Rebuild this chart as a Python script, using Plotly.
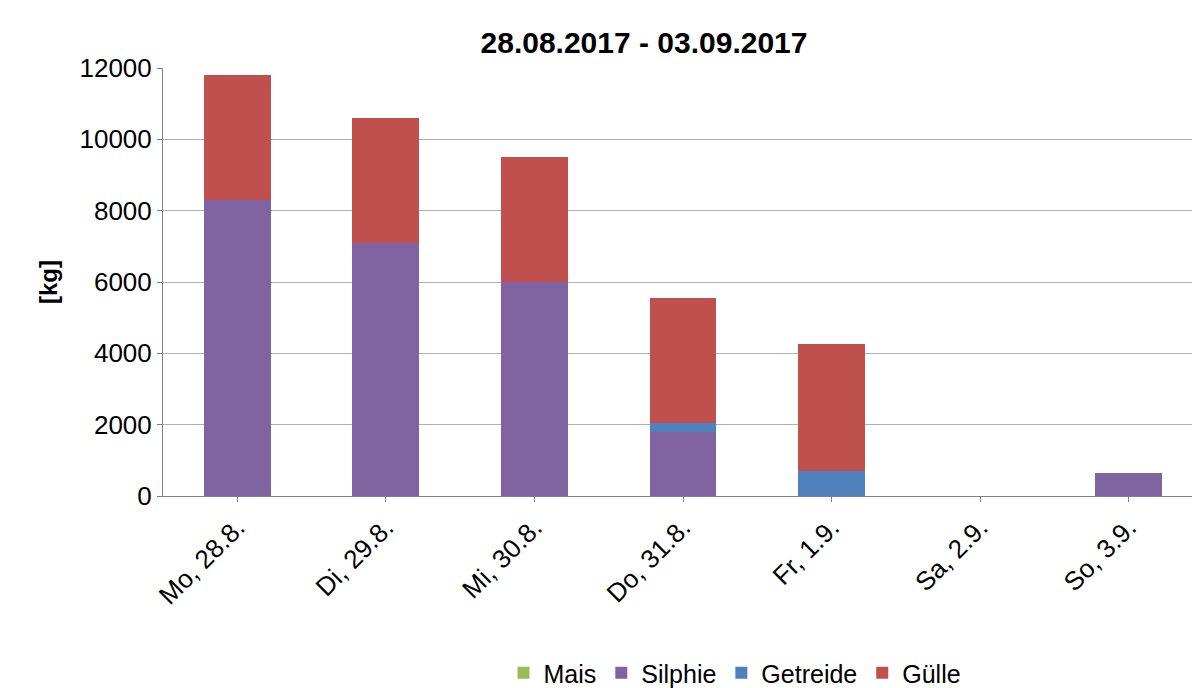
import plotly.graph_objects as go

days = ["Mo, 28.8.", "Di, 29.8.", "Mi, 30.8.", "Do, 31.8.", "Fr, 1.9.", "Sa, 2.9.", "So, 3.9."]
mais = [0, 0, 0, 0, 0, 0, 0]
silphie = [8300, 7100, 6000, 1800, 0, 0, 650]
getreide = [0, 0, 0, 250, 700, 0, 0]
guelle = [3500, 3500, 3500, 3500, 3550, 0, 0]

fig = go.Figure()
fig.add_trace(go.Bar(x=days, y=mais, name="Mais", marker_color="#9bbb59"))
fig.add_trace(go.Bar(x=days, y=silphie, name="Silphie", marker_color="#8064a2"))
fig.add_trace(go.Bar(x=days, y=getreide, name="Getreide", marker_color="#4f81bd"))
fig.add_trace(go.Bar(x=days, y=guelle, name="Gülle", marker_color="#c0504d"))
fig.update_traces(marker_line_width=0)

fig.update_layout(
    barmode="stack",
    bargap=0.55,
    width=1200, height=688,
    paper_bgcolor="white", plot_bgcolor="white",
    font=dict(family="Liberation Sans, Arial", size=26, color="black"),
    title=dict(text="<b>28.08.2017 - 03.09.2017</b>", x=0.53, y=0.965, xanchor="center", font=dict(size=30)),
    margin=dict(l=155, r=5, t=60, b=200, autoexpand=False),
    legend=dict(orientation="h", x=0.55, xanchor="center", y=-0.36, yanchor="top",
                traceorder="normal", font=dict(size=25)),
    yaxis=dict(range=[0, 12000], dtick=2000, tickformat="d", showgrid=True, gridcolor="#b0b0b0",
               showline=True, linecolor="#808080", ticks="outside", tickcolor="#808080",
               automargin=False, title=dict(text="<b>[kg]</b>", standoff=15, font=dict(size=24))),
    xaxis=dict(tickangle=-45, showline=True, linecolor="#808080", ticks="outside",
               tickcolor="#808080", automargin=False),
)

fig.write_html("out.html")
